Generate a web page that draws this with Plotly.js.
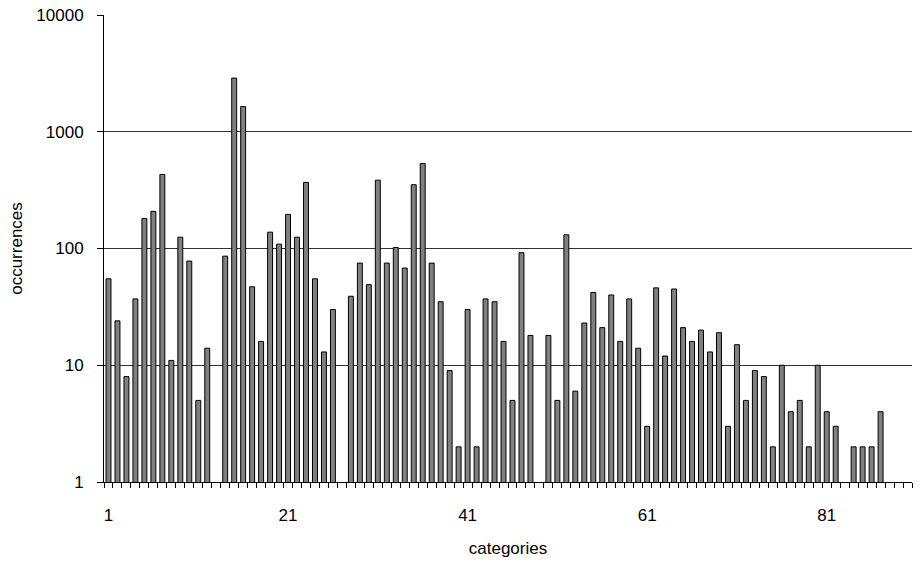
<!DOCTYPE html>
<html>
<head>
<meta charset="utf-8">
<script src="https://cdn.plot.ly/plotly-3.0.1.min.js"></script>
<style>html,body{margin:0;padding:0;background:#fff;}#chart{width:919px;height:561px;}</style>
</head>
<body>
<div id="chart"></div>
<script>
// Category numbers 1..90
const categories = [
  1,2,3,4,5,6,7,8,9,10,11,12,13,14,15,16,17,18,19,20,
  21,22,23,24,25,26,27,28,29,30,31,32,33,34,35,36,37,38,39,40,
  41,42,43,44,45,46,47,48,49,50,51,52,53,54,55,56,57,58,59,60,
  61,62,63,64,65,66,67,68,69,70,71,72,73,74,75,76,77,78,79,80,
  81,82,83,84,85,86,87,88,89,90
];
// Occurrences per category (null = no bar)
const occurrences = [
  55,24,8,37,181,208,431,11,125,78,5,14,null,86,2880,1645,47,16,138,109,
  196,125,368,55,13,30,null,39,75,49,385,75,102,68,352,535,75,35,9,2,
  30,2,37,35,16,5,92,18,null,18,5,131,6,23,42,21,40,16,37,14,
  3,46,12,45,21,16,20,13,19,3,15,5,9,8,2,10,4,5,2,10,
  4,3,null,2,2,2,4,null,null,null
];
const xTickVals = [1,21,41,61,81];
const xTickText = ['1','21','41','61','81'];
const yTickVals = [1,10,100,1000,10000];
const yTickText = ['1','10','100','1000','10000'];

const FONT = 'Liberation Sans, Arial, sans-serif';

const trace = {
  type: 'bar',
  x: categories,
  y: occurrences,
  width: 0.55,
  marker: {color: '#808080', line: {color: '#000', width: 1}},
  hoverinfo: 'x+y'
};

const layout = {
  width: 919, height: 561,
  margin: {l: 104, r: 7, t: 15, b: 79},
  paper_bgcolor: '#fff', plot_bgcolor: '#fff',
  showlegend: false,
  font: {family: FONT, size: 17, color: '#000'},
  xaxis: {
    range: [0.5, categories.length + 0.5],
    tickmode: 'array', tickvals: xTickVals, ticktext: xTickText,
    ticks: '', showgrid: false, zeroline: false,
    showline: true, linecolor: '#000', linewidth: 1,
    ticklabelstandoff: 18,
    minor: {tickmode: 'linear', tick0: 0.5, dtick: 1, ticks: 'outside', ticklen: 5, tickcolor: '#000', tickwidth: 1, showgrid: false},
    tickfont: {family: FONT, size: 17, color: '#000'},
    title: {text: 'categories', font: {family: FONT, size: 17, color: '#000'}, standoff: 17}
  },
  yaxis: {
    type: 'log', range: [0, 4],
    tickmode: 'array', tickvals: yTickVals, ticktext: yTickText,
    ticks: 'outside', ticklen: 6, tickcolor: '#000', tickwidth: 1,
    showgrid: true, gridcolor: '#333', gridwidth: 1,
    zeroline: false, showline: true, linecolor: '#000', linewidth: 1,
    ticklabelstandoff: 10,
    tickfont: {family: FONT, size: 17, color: '#000'},
    title: {text: 'occurrences', font: {family: FONT, size: 17, color: '#000'}, standoff: 9}
  }
};

Plotly.newPlot('chart', [trace], layout, {displayModeBar: false, staticPlot: true});
</script>
</body>
</html>
